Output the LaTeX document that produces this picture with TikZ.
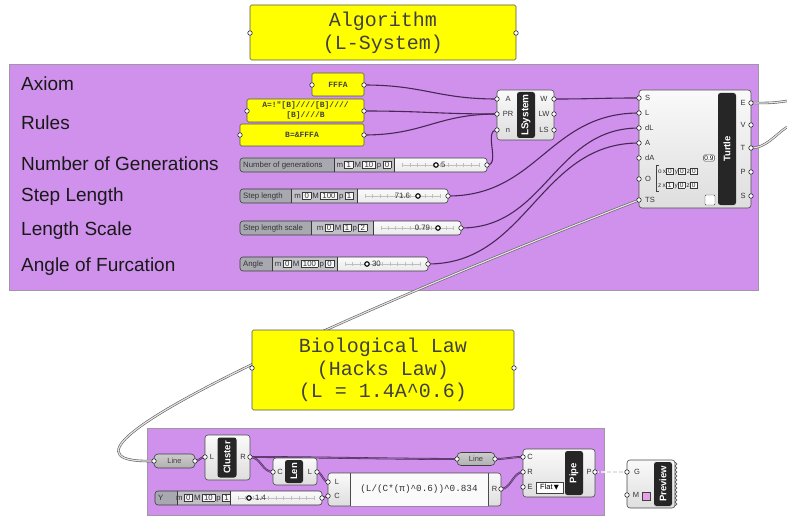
\documentclass[tikz,border=0pt]{standalone}
\usepackage{fontspec}
\setmainfont{Liberation Sans}
\newfontfamily\panelfont{Liberation Mono}
\newfontfamily\symfont{DejaVu Sans}

\definecolor{grpfill}{RGB}{207,145,236}
\definecolor{grpline}{RGB}{160,150,165}
\definecolor{panelyel}{RGB}{255,255,0}
\definecolor{wiredark}{RGB}{74,40,86}
\definecolor{barblack}{RGB}{38,38,38}
\definecolor{paramgray}{RGB}{168,168,176}
\definecolor{rangegray}{RGB}{192,192,198}
\definecolor{swatch}{RGB}{232,160,232}

\tikzset{
  ghgroup/.style={draw=grpline, fill=grpfill, line width=0.6pt},
  panel/.style={draw=gray!65!black, fill=panelyel, rounded corners=1.5pt, line width=0.6pt, inner sep=0, text=black!75},
  comp/.style={draw=gray!60!black, top color=gray!4, bottom color=gray!26, rounded corners=3pt, line width=0.6pt, inner sep=0},
  cbar/.style={fill=barblack, rounded corners=2.5pt, inner sep=0},
  cbartext/.style={text=white, font=\bfseries\fontsize{9.5}{10}\selectfont, rotate=90, inner sep=0},
  plabel/.style={font=\fontsize{7.5}{8}\selectfont, text=black!80, inner sep=0},
  port/.style={circle, draw=black!85, fill=white, line width=0.6pt, inner sep=0, minimum size=4.5pt},
  wire/.style={draw=wiredark, line width=1.1pt},
  listwire/.style={draw=wiredark, line width=0.55pt, double=grpfill!55!wiredark, double distance=0.8pt},
  treewire/.style={draw=gray!75!black, line width=0.6pt, double=gray!22, double distance=1.2pt},
  param/.style={draw=gray!50!black, top color=gray!40, bottom color=gray!62, rounded corners=4pt, inner sep=0, font=\fontsize{7.5}{8}\selectfont, text=black!75, line width=0.6pt},
  rowlabel/.style={anchor=west, font=\fontsize{19}{22}\selectfont, text=black!90, inner sep=0},
  sliderbody/.style={top color=gray!4, bottom color=gray!16, rounded corners=3pt, minimum height=14pt, inner sep=0},
  sliderline/.style={draw=gray!45!black, line width=0.6pt},
  sltext/.style={font=\fontsize{7.8}{8}\selectfont, text=black!80, inner sep=0},
  knob/.style={circle, draw=black, line width=1.1pt, fill=white, inner sep=0, minimum size=4.5pt},
  vbox/.style={draw=gray!50!black, fill=white, rounded corners=1pt, inner sep=0.8pt, font=\fontsize{6.5}{7}\selectfont},
}

% small value box and slider range
\newcommand\ghbox[1]{{\setlength{\fboxsep}{0.5pt}\setlength{\fboxrule}{0.45pt}\fcolorbox{gray!45!black}{gray!6}{\,#1\,}}}
\newcommand\ghrange[3]{m\,\ghbox{#1}\,M\,\ghbox{#2}\,p\,\ghbox{#3}}

% #1 name, #2 y, #3 left, #4 label end, #5 range end, #6 right, #7 label, #8 range
\newcommand\ghslider[8]{%
  \node[sliderbody, anchor=west, minimum width={#6-#3}] (#1) at (#3,#2) {};
  \fill[paramgray, rounded corners=3pt] (#3,{#2-7}) rectangle ({#4+4},{#2+7});
  \fill[rangegray] (#4,{#2-7}) rectangle (#5,{#2+7});
  \draw[sliderline] (#4,{#2-7}) -- (#4,{#2+7}) (#5,{#2-7}) -- (#5,{#2+7});
  \draw[sliderline, rounded corners=3pt] (#3,{#2-7}) rectangle (#6,{#2+7});
  \draw[gray!50, line width=0.4pt] ({#5+8},#2) -- ({#6-8},#2);
  \foreach \k in {0,...,10}
    \draw[gray!50, line width=0.4pt] ({#5+8+\k*(#6-#5-16)/10},{#2-2}) -- ++(0,4);
  \node[sltext, anchor=west] (#1-name) at ({#3+3},#2) {#7};
  \node[sltext] (#1-range) at ({(#4+#5)/2},#2) {#8};
}

\begin{document}
\begin{tikzpicture}[x=1pt, y=-1pt]
  \useasboundingbox (0,0) rectangle (787,516);
  \fill[white] (0,0) rectangle (787,516);

  % Groups
  \draw[ghgroup] (9,64) rectangle (758,290);
  \draw[ghgroup] (147,428) rectangle (604,515);

  % Row labels
  \node[rowlabel] (lblAxiom) at (21,84) {Axiom};
  \node[rowlabel] (lblRules) at (21,123) {Rules};
  \node[rowlabel] (lblGen) at (21,164) {Number of Generations};
  \node[rowlabel] (lblStep) at (21,197) {Step Length};
  \node[rowlabel] (lblScale) at (21,231) {Length Scale};
  \node[rowlabel] (lblAngle) at (21,267) {Angle of Furcation};

  % Ports
  \coordinate (algoIn) at (250,33);  \coordinate (algoOut) at (516,33);
  \coordinate (bioIn) at (252,368);  \coordinate (bioOut) at (514,368);
  \coordinate (fffaIn) at (312,85);  \coordinate (fffaOut) at (364,85);
  \coordinate (rulesIn) at (247,111); \coordinate (rulesOut) at (364,111);
  \coordinate (bIn) at (240,135);    \coordinate (bOut) at (364,135);
  \coordinate (genOut) at (487,165);
  \coordinate (stepOut) at (448,196);
  \coordinate (scaleOut) at (461,228);
  \coordinate (angOut) at (428,264);
  \coordinate (lsA) at (497,99);  \coordinate (lsPR) at (497,114); \coordinate (lsN) at (497,130);
  \coordinate (lsW) at (554,99);  \coordinate (lsLW) at (554,114); \coordinate (lsLS) at (554,130);
  \coordinate (tS) at (639,98);   \coordinate (tL) at (639,113);  \coordinate (tdL) at (639,128);
  \coordinate (tA) at (639,143);  \coordinate (tdA) at (639,158); \coordinate (tO) at (639,179);
  \coordinate (tTS) at (639,200);
  \coordinate (tE) at (751,103);  \coordinate (tV) at (751,125);  \coordinate (tT) at (751,148);
  \coordinate (tP) at (751,172);  \coordinate (tSo) at (751,196);
  \coordinate (eEnd) at (787,101); \coordinate (tEnd) at (787,127);
  \coordinate (line1In) at (154,461); \coordinate (line1Out) at (195,461);
  \coordinate (clL) at (205,457);  \coordinate (clR) at (250,457);
  \coordinate (lenC) at (273,472); \coordinate (lenL) at (317,472);
  \coordinate (exL) at (328,482);  \coordinate (exC) at (328,496); \coordinate (exR) at (501,489);
  \coordinate (ysOut) at (322,498);
  \coordinate (line2In) at (457,459); \coordinate (line2Out) at (495,459);
  \coordinate (pipeC) at (523,457); \coordinate (pipeR) at (523,472); \coordinate (pipeE) at (523,487);
  \coordinate (pipeP) at (595,472);
  \coordinate (prevG) at (627,472); \coordinate (prevM) at (627,495);

  % Wires
  \draw[wire] (fffaOut) .. controls +(60,0) and +(-60,0) .. (lsA);
  \draw[wire] (rulesOut) .. controls +(60,0) and +(-60,0) .. (lsPR);
  \draw[wire] (bOut) .. controls +(60,0) and +(-60,0) .. (lsPR);
  \draw[wire] (genOut) .. controls +(14,0) and +(-14,0) .. (lsN);
  \draw[wire] (lsW) .. controls +(40,0) and +(-40,0) .. (tS);
  \draw[wire] (stepOut) .. controls +(90,0) and +(-90,0) .. (tL);
  \draw[wire] (scaleOut) .. controls +(85,0) and +(-85,0) .. (tdL);
  \draw[wire] (angOut) .. controls +(100,0) and +(-100,0) .. (tA);
  \draw[treewire] (tE) .. controls +(22,0) and +(-15,2) .. (eEnd);
  \draw[treewire] (tT) .. controls +(15,0) and +(-12,8) .. (tEnd);
  \draw[treewire] (tTS) .. controls (380,300) and (0,465) .. (line1In);
  \draw[listwire] (line1Out) .. controls +(5,0) and +(-5,0) .. (clL);
  \draw[listwire] (clR) .. controls +(60,0) and +(-60,0) .. (line2In);
  \draw[listwire] (clR) .. controls +(11,0) and +(-11,0) .. (lenC);
  \draw[listwire] (lenL) .. controls +(5,0) and +(-5,0) .. (exL);
  \draw[wire] (ysOut) -- (exC);
  \draw[listwire] (line2Out) .. controls +(12,0) and +(-12,0) .. (pipeC);
  \draw[listwire] (exR) .. controls +(10,0) and +(-10,0) .. (pipeR);
  \draw[treewire, dash pattern=on 4pt off 2pt] (pipeP) -- (prevG);

  % Panels
  \node[panel, minimum width=266, minimum height=55, align=center,
        font=\panelfont\fontsize{20}{23}\selectfont] (algo) at (383,32.5) {Algorithm\\(L-System)};
  \node[panel, minimum width=262, minimum height=80, align=center,
        font=\panelfont\fontsize{20}{22.5}\selectfont] (bio) at (383,370) {Biological Law\\(Hacks Law)\\(L = 1.4A\textasciicircum0.6)};
  \node[panel, minimum width=52, minimum height=23, font=\panelfont\bfseries\fontsize{8}{10}\selectfont] (fffa) at (338,84.5) {FFFA};
  \node[panel, minimum width=117, minimum height=23, align=center,
        font=\panelfont\bfseries\fontsize{8}{10}\selectfont] (rules) at (305.5,110.5) {A=!"[B]////[B]////\\{}[B]////B};
  \node[panel, minimum width=124, minimum height=22, font=\panelfont\bfseries\fontsize{8}{10}\selectfont] (bRule) at (302,135) {B=\&FFFA};

  % Sliders
  \ghslider{genSl}{165}{240}{334}{394}{487}{Number of generations}{\ghrange{1}{10}{0}}
  \node[knob, label={[sltext, label distance=2pt]right:5}] (genKnob) at (436,165) {};
  \ghslider{stepSl}{196}{240}{291}{357}{448}{Step length}{\ghrange{0}{100}{1}}
  \node[knob, label={[sltext, label distance=5pt]left:71.6}] (stepKnob) at (418,196) {};
  \ghslider{scaleSl}{228}{240}{311}{373}{461}{Step length scale}{\ghrange{0}{1}{2}}
  \node[knob, label={[sltext, label distance=5pt]left:0.79}] (scaleKnob) at (438,228) {};
  \ghslider{angSl}{264}{240}{272}{337}{428}{Angle}{\ghrange{0}{100}{0}}
  \node[knob, label={[sltext, label distance=2pt]right:30}] (angKnob) at (367,264) {};
  \ghslider{ySl}{498}{155}{177}{230}{322}{Y}{\ghrange{0}{10}{1}}
  \node[knob, label={[sltext, label distance=3pt]right:1.4}] (yKnob) at (249,498) {};

  % LSystem
  \node[comp, minimum width=57, minimum height=50] (lsys) at (525.5,115) {};
  \node[cbar, minimum width=18, minimum height=46] (lsysBar) at (526,115) {};
  \node[cbartext, font=\bfseries\fontsize{10}{10}\selectfont] (lsysName) at (lsysBar) {LSystem};
  \node[plabel] (lsAl) at (508,99) {A};
  \node[plabel] (lsPRl) at (508,114) {PR};
  \node[plabel] (lsNl) at (508,130) {n};
  \node[plabel] (lsWl) at (544,99) {W};
  \node[plabel] (lsLWl) at (544,114) {LW};
  \node[plabel] (lsLSl) at (544,130) {LS};

  % Turtle
  \node[comp, minimum width=112, minimum height=118] (turtle) at (695,149) {};
  \node[cbar, minimum width=18, minimum height=112] (turtleBar) at (727,149) {};
  \node[cbartext] (turtleName) at (turtleBar) {Turtle};
  \foreach \p/\t in {tS/S, tL/L, tdL/dL, tA/A, tdA/dA, tO/O, tTS/TS}
    \node[plabel, anchor=west] (\p-l) at ([xshift=6]\p) {\t};
  \foreach \p/\t in {tE/E, tV/V, tT/T, tP/P, tSo/S}
    \node[plabel] (\p-l) at ([xshift=-8]\p) {\t};
  \node[vbox] (tdAval) at (709,158) {0.9};
  \draw[gray!50!black, line width=0.4pt] (659,165) -- (656,165) -- (656,191) -- (659,191);
  \node[plabel, anchor=west, font=\fontsize{6.5}{7}\selectfont] (tOrow1) at (658,171) {o\,x\ghbox{0}\,y\ghbox{0}\,z\ghbox{0}};
  \node[plabel, anchor=west, font=\fontsize{6.5}{7}\selectfont] (tOrow2) at (658,185) {z\,x\ghbox{1}\,y\ghbox{0}\,z\ghbox{0}};
  \node[draw=gray!55!black, fill=white, rounded corners=1pt, minimum size=10pt, inner sep=0] (tCheck) at (710,200) {};

  % Line params
  \node[param, minimum width=41, minimum height=14] (line1) at (174.5,461) {Line};
  \node[param, minimum width=38, minimum height=13] (line2) at (476,459) {Line};

  % Cluster
  \node[comp, minimum width=45, minimum height=45] (cluster) at (227.5,457.5) {};
  \node[cbar, minimum width=19, minimum height=40] (clusterBar) at (227,457.5) {};
  \node[cbartext] (clusterName) at (clusterBar) {Cluster};
  \node[plabel] (clLl) at (212,457) {L};
  \node[plabel] (clRl) at (243,457) {R};

  % Len
  \node[comp, minimum width=44, minimum height=27] (len) at (295,471.5) {};
  \node[cbar, minimum width=18, minimum height=23] (lenBar) at (294,471.5) {};
  \node[cbartext] (lenName) at (lenBar) {Len};
  \node[plabel] (lenCl) at (280,472) {C};
  \node[plabel] (lenLl) at (310,472) {L};

  % Expression
  \node[comp, minimum width=173, minimum height=33] (expr) at (414.5,489.5) {};
  \fill[gray!4] (350.5,473.5) rectangle (487.5,505.5);
  \draw[gray!60!black, line width=0.6pt] (350,473) -- (350,506) (488,473) -- (488,506);
  \node[plabel] (exLl) at (337,482) {L};
  \node[plabel] (exCl) at (337,496) {C};
  \node[plabel] (exRl) at (494.5,489) {R};
  \node[font=\panelfont\fontsize{9.3}{10}\selectfont, text=black!80, inner sep=0] (exprText) at (419,489) {(L/(C*(π)\textasciicircum0.6))\textasciicircum0.834};

  % Pipe
  \node[comp, minimum width=72, minimum height=48] (pipe) at (559,473) {};
  \node[cbar, minimum width=18, minimum height=44] (pipeBar) at (574,473) {};
  \node[cbartext] (pipeName) at (pipeBar) {Pipe};
  \node[plabel] (pipeCl) at (530,457) {C};
  \node[plabel] (pipeRl) at (530,472) {R};
  \node[plabel] (pipeEl) at (530,487) {E};
  \node[plabel] (pipePl) at (589,472) {P};
  \node[draw=gray!50!black, fill=white, minimum width=27, minimum height=11, inner sep=0,
        font=\fontsize{7.5}{8}\selectfont] (pipeFlat) at (549.5,487.5) {Flat\,{\symfont\fontsize{6.5}{7}\selectfont ▼}};

  % Preview
  \node[comp, minimum width=48, minimum height=48] (preview) at (651,484) {};
  \draw[gray!55!black, line width=0.5pt] (675,462) \foreach \k in {1,...,11} { -- ++(2,2) -- ++(-2,2) };
  \node[cbar, minimum width=18, minimum height=44] (previewBar) at (663,484) {};
  \node[cbartext] (previewName) at (previewBar) {Preview};
  \node[plabel] (prevGl) at (637,472) {G};
  \node[plabel] (prevMl) at (636,495) {M};
  \node[draw=gray!50!black, fill=swatch, minimum size=8pt, inner sep=0] (prevSwatch) at (646.5,496) {};

  % Port dots
  \foreach \p in {algoIn, algoOut, bioIn, bioOut, fffaIn, fffaOut, rulesIn, rulesOut, bIn, bOut,
                  genOut, stepOut, scaleOut, angOut, lsA, lsPR, lsN, lsW, lsLW, lsLS,
                  tS, tL, tdL, tA, tdA, tO, tTS, tE, tV, tT, tP, tSo,
                  line1In, line1Out, clL, clR, lenC, lenL, exL, exC, exR, ysOut,
                  line2In, line2Out, pipeC, pipeR, pipeE, pipeP, prevG, prevM}
    \node[port] (\p-dot) at (\p) {};
\end{tikzpicture}
\end{document}
